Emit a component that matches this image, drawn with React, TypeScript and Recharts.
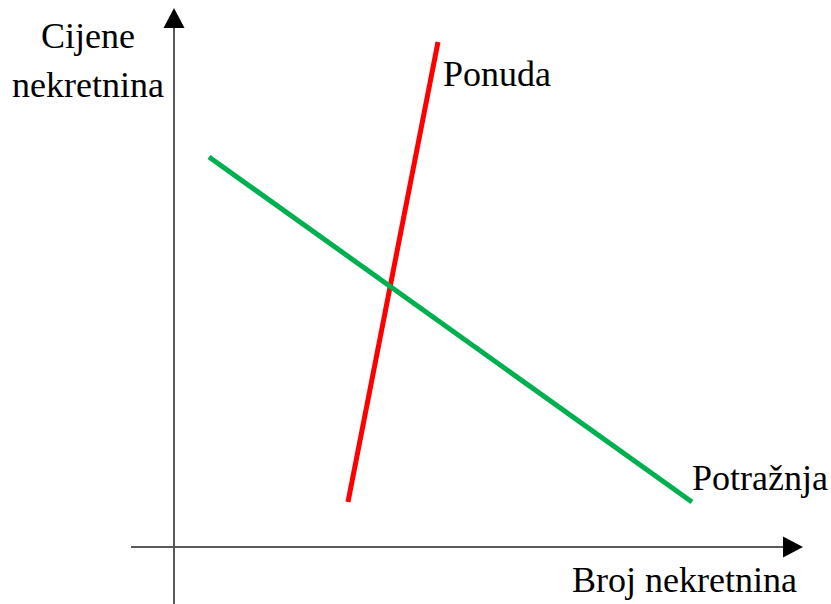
import React from "react";
import { ComposedChart, Line, XAxis, YAxis, ReferenceLine, ReferenceDot } from "recharts";

// Conceptual units: origin at the axes' crossing
const supply = [
  { x: 3.48, y: 0.9 },
  { x: 5.28, y: 10.1 },
];
const demand = [
  { x: 0.7, y: 7.8 },
  { x: 10.36, y: 0.9 },
];
const yTitle = ["Cijene", "nekretnina"];
const xTitle = "Broj nekretnina";
const supplyLabel = "Ponuda";
const demandLabel = "Potražnja";

const X_DOMAIN: [number, number] = [-3.48, 13.14];
const Y_DOMAIN: [number, number] = [-1.14, 10.94];

const FONT = "'Liberation Serif', 'Times New Roman', serif";

const textShape = (value: string, anchor: "start" | "middle" | "end") => (props: any) => (
  <text x={props.cx} y={props.cy} textAnchor={anchor} fontFamily={FONT} fontSize={36} fill="#000">
    {value}
  </text>
);

const upArrow = (props: any) => {
  const { cx, cy } = props;
  return <polygon points={`${cx},${cy} ${cx - 10.5},${cy + 20} ${cx + 10.5},${cy + 20}`} fill="#000" />;
};
const rightArrow = (props: any) => {
  const { cx, cy } = props;
  return <polygon points={`${cx},${cy} ${cx - 20},${cy - 10.5} ${cx - 20},${cy + 10.5}`} fill="#000" />;
};

export default function App() {
  return (
    <div style={{ position: "absolute", left: 0, top: 0, width: 831, height: 604, overflow: "hidden" }}>
      <ComposedChart width={831} height={604} margin={{ top: 0, right: 0, bottom: 0, left: 0 }}>
        <XAxis type="number" dataKey="x" domain={X_DOMAIN} allowDataOverflow hide />
        <YAxis type="number" dataKey="y" domain={Y_DOMAIN} allowDataOverflow hide />
        <ReferenceLine
          segment={[{ x: -0.86, y: 0 }, { x: 12.2, y: 0 }]}
          stroke="#595959"
          strokeWidth={2}
        />
        <ReferenceLine
          segment={[{ x: 0, y: -1.14 }, { x: 0, y: 10.4 }]}
          stroke="#595959"
          strokeWidth={2}
        />
        <ReferenceDot x={0} y={10.78} r={0} shape={upArrow} />
        <ReferenceDot x={12.58} y={0} r={0} shape={rightArrow} />
        <Line
          data={supply}
          dataKey="y"
          stroke="#ff0000"
          strokeWidth={5}
          dot={false}
          activeDot={false}
          isAnimationActive={false}
        />
        <Line
          data={demand}
          dataKey="y"
          stroke="#00b050"
          strokeWidth={5}
          dot={false}
          activeDot={false}
          isAnimationActive={false}
        />
        <ReferenceDot x={-1.72} y={9.98} r={0} shape={textShape(yTitle[0], "middle")} />
        <ReferenceDot x={-1.72} y={9.0} r={0} shape={textShape(yTitle[1], "middle")} />
        <ReferenceDot x={5.38} y={9.22} r={0} shape={textShape(supplyLabel, "start")} />
        <ReferenceDot x={10.36} y={1.14} r={0} shape={textShape(demandLabel, "start")} />
        <ReferenceDot x={7.96} y={-0.9} r={0} shape={textShape(xTitle, "start")} />
      </ComposedChart>
    </div>
  );
}
